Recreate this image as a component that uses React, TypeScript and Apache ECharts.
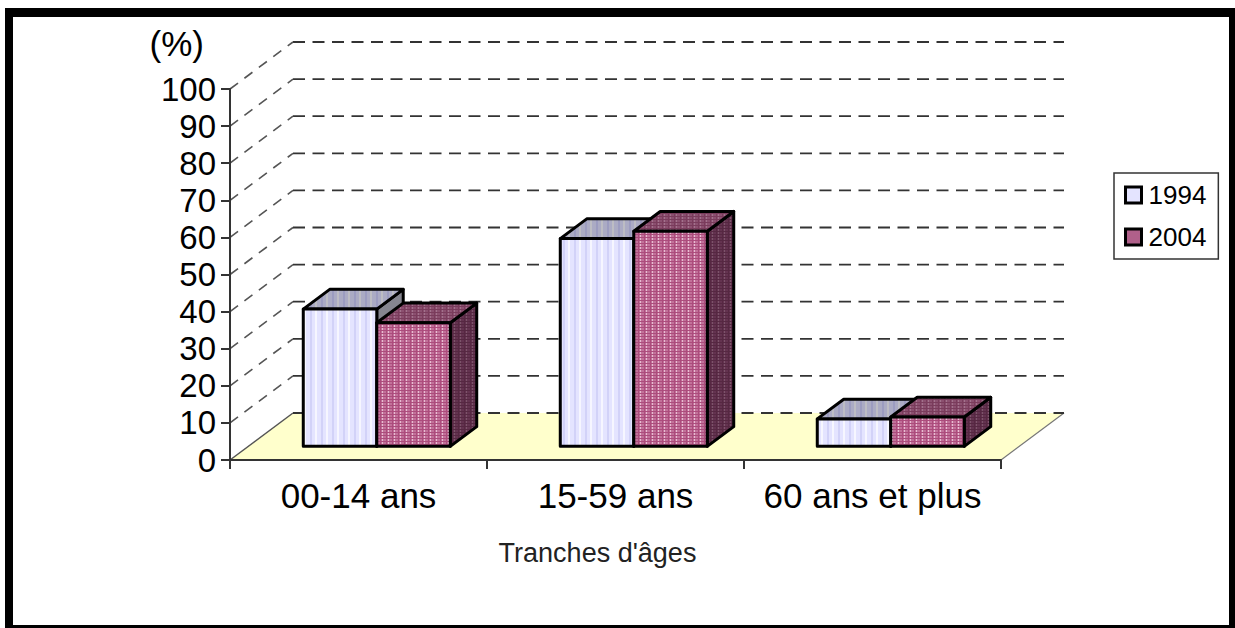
import React, { useEffect, useRef } from "react";
import * as echarts from "echarts";

const categories = ["00-14 ans", "15-59 ans", "60 ans et plus"];
const values1994 = [37, 56, 7.4];
const values2004 = [33.3, 58, 7.9];
const yTicks = [0, 10, 20, 30, 40, 50, 60, 70, 80, 90, 100];

const DEPTH_X = 63;
const DEPTH_Y = -47;
const FRONT = 0.29;
const BACK = 0.71;
const BAR_W = 73.5;
const FONT = "'Liberation Sans', Arial, sans-serif";

function tile(w: number, h: number, draw: (c: CanvasRenderingContext2D) => void) {
  const cv = document.createElement("canvas");
  cv.width = w;
  cv.height = h;
  const c = cv.getContext("2d")!;
  draw(c);
  return { image: cv, repeat: "repeat" } as any;
}

function stripes(base: string, band: string, light: string) {
  return tile(11, 4, (c) => {
    c.fillStyle = base;
    c.fillRect(0, 0, 11, 4);
    c.fillStyle = band;
    c.fillRect(2, 0, 2, 4);
    c.fillStyle = light;
    c.fillRect(7, 0, 2, 4);
  });
}

function weave(base: string, dark: string, light: string) {
  return tile(6, 6, (c) => {
    c.fillStyle = base;
    c.fillRect(0, 0, 6, 6);
    c.fillStyle = dark;
    c.fillRect(0, 0, 6, 1);
    c.fillRect(0, 3, 6, 1);
    c.fillRect(2, 0, 1, 6);
    c.fillStyle = light;
    c.fillRect(4, 1, 1, 2);
    c.fillRect(4, 4, 1, 2);
  });
}

function barRenderer(offset: number, front: any, top: any, side: any) {
  return (params: any, api: any) => {
    const cat = api.value(0);
    const [cx, yTop] = api.coord([cat, api.value(1)]);
    const [, yBase] = api.coord([cat, 0]);
    const x0 = cx + DEPTH_X * FRONT + offset * BAR_W;
    const x1 = x0 + BAR_W;
    const fy = DEPTH_Y * FRONT;
    const dx = DEPTH_X * (BACK - FRONT);
    const dy = DEPTH_Y * (BACK - FRONT);
    const t = yTop + fy;
    const b = yBase + fy;
    const line = { stroke: "#000", lineWidth: 3, lineJoin: "round" };
    return {
      type: "group",
      children: [
        { type: "polygon", shape: { points: [[x1, t], [x1 + dx, t + dy], [x1 + dx, b + dy], [x1, b]] }, style: { fill: side, ...line } },
        { type: "polygon", shape: { points: [[x0, t], [x0 + dx, t + dy], [x1 + dx, t + dy], [x1, t]] }, style: { fill: top, ...line } },
        { type: "rect", shape: { x: x0, y: t, width: BAR_W, height: b - t }, style: { fill: front, ...line } },
      ],
    };
  };
}

export default function App() {
  const ref = useRef<HTMLDivElement>(null);
  useEffect(() => {
    document.body.style.margin = "0";
    const chart = echarts.init(ref.current!, undefined, { renderer: "svg" });

    const front94 = stripes("#E4E4FF", "#D2D2F8", "#F6F6FF");
    const top94 = stripes("#ABABC4", "#9C9CC0", "#BDBDC4");
    const side94 = "#85858F";
    const front04 = weave("#C2729A", "#AC4C7C", "#E8BCD2");
    const top04 = weave("#8C5070", "#7A3C5C", "#A2728C");
    const side04 = weave("#643350", "#562842", "#7C546A");

    const solid = (x: number, y: number, width: number, height: number) => ({
      type: "rect",
      silent: true,
      z: 10,
      shape: { x, y, width, height },
      style: { fill: "#000" },
    });

    chart.setOption({
      animation: false,
      backgroundColor: "#fff",
      textStyle: { fontFamily: FONT },
      grid: { left: 230, top: 89, width: 771, height: 371, containLabel: false },
      graphic: [
        solid(5, 8, 1230, 9),
        solid(5, 8, 8, 620),
        solid(1229, 8, 6, 620),
        solid(5, 625, 1230, 3),
      ],
      legend: {
        left: 1114,
        top: 173,
        orient: "vertical",
        padding: [9, 12, 9, 10],
        itemGap: 16,
        itemWidth: 16,
        itemHeight: 16,
        borderColor: "#333",
        borderWidth: 1.5,
        backgroundColor: "#fff",
        textStyle: { fontSize: 26, color: "#000", fontFamily: FONT, padding: [0, 0, 0, 2] },
        data: [
          { name: "1994", icon: "rect", itemStyle: { color: "#E4E4FF", borderColor: "#000", borderWidth: 3 } },
          { name: "2004", icon: "rect", itemStyle: { color: "#B0608A", borderColor: "#000", borderWidth: 3 } },
        ],
      },
      xAxis: {
        type: "category",
        data: categories,
        z: 1,
        name: "Tranches d'âges",
        nameLocation: "middle",
        nameGap: 79,
        nameTextStyle: { fontSize: 27, color: "#222", fontFamily: FONT, padding: [0, 36, 0, 0] },
        axisLine: { show: true, lineStyle: { color: "#333", width: 2 } },
        axisTick: { show: true, length: 9, interval: 0, alignWithLabel: false, lineStyle: { color: "#333", width: 2 } },
        axisLabel: { show: true, interval: 0, fontSize: 35, color: "#000", margin: 18, fontFamily: FONT },
        splitLine: { show: false },
      },
      yAxis: {
        type: "value",
        min: 0,
        max: 100,
        interval: 10,
        z: 1,
        name: "(%)",
        nameLocation: "end",
        nameGap: 28,
        nameTextStyle: { fontSize: 35, color: "#000", fontFamily: FONT, align: "right", padding: [0, 26, 0, 0] },
        axisLine: { show: true, lineStyle: { color: "#333", width: 2 } },
        axisTick: { show: true, length: 9, lineStyle: { color: "#333", width: 2 } },
        axisLabel: { fontSize: 33, color: "#000", margin: 14, fontFamily: FONT },
        splitLine: { show: false },
      },
      series: [
        {
          type: "custom",
          name: "floor",
          z: 0,
          silent: true,
          clip: false,
          data: [[0, 0]],
          renderItem: (params: any, api: any) => {
            const cs = params.coordSys;
            const y = cs.y + cs.height;
            const pts = [
              [cs.x, y],
              [cs.x + DEPTH_X, y + DEPTH_Y],
              [cs.x + cs.width + DEPTH_X, y + DEPTH_Y],
              [cs.x + cs.width, y],
            ];
            return {
              type: "group",
              children: [
                { type: "polygon", shape: { points: pts }, style: { fill: "#FFFFCC", stroke: null } },
                { type: "line", shape: { x1: pts[0][0], y1: pts[0][1], x2: pts[1][0], y2: pts[1][1] }, style: { stroke: "#555", lineWidth: 1.5 } },
                { type: "line", shape: { x1: pts[3][0], y1: pts[3][1], x2: pts[2][0], y2: pts[2][1] }, style: { stroke: "#777", lineWidth: 1.2 } },
              ],
            };
          },
        },
        {
          type: "custom",
          name: "grid",
          z: 0.5,
          silent: true,
          clip: false,
          data: yTicks.map((v) => [0, v]),
          renderItem: (params: any, api: any) => {
            const cs = params.coordSys;
            const y = api.coord([0, api.value(1)])[1];
            const dash = { stroke: "#333", lineWidth: 1.8, lineDash: [12, 7.5] };
            const children: any[] = [
              {
                type: "line",
                shape: { x1: cs.x + DEPTH_X, y1: y + DEPTH_Y, x2: cs.x + cs.width + DEPTH_X, y2: y + DEPTH_Y },
                style: dash,
              },
            ];
            if (api.value(1) > 0) {
              children.push({
                type: "line",
                shape: { x1: cs.x, y1: y, x2: cs.x + DEPTH_X, y2: y + DEPTH_Y },
                style: { stroke: "#555", lineWidth: 1.6, lineDash: [10, 8] },
              });
            }
            return { type: "group", children };
          },
        },
        {
          type: "custom",
          name: "1994",
          z: 2,
          clip: false,
          itemStyle: { color: "#E4E4FF" },
          data: categories.map((c, i) => [c, values1994[i]]),
          renderItem: barRenderer(-1, front94, top94, side94),
        },
        {
          type: "custom",
          name: "2004",
          z: 3,
          clip: false,
          itemStyle: { color: "#B0608A" },
          data: categories.map((c, i) => [c, values2004[i]]),
          renderItem: barRenderer(0, front04, top04, side04),
        },
      ],
    });
    return () => chart.dispose();
  }, []);
  return <div ref={ref} style={{ position: "absolute", left: 0, top: 0, width: 1235, height: 628 }} />;
}
